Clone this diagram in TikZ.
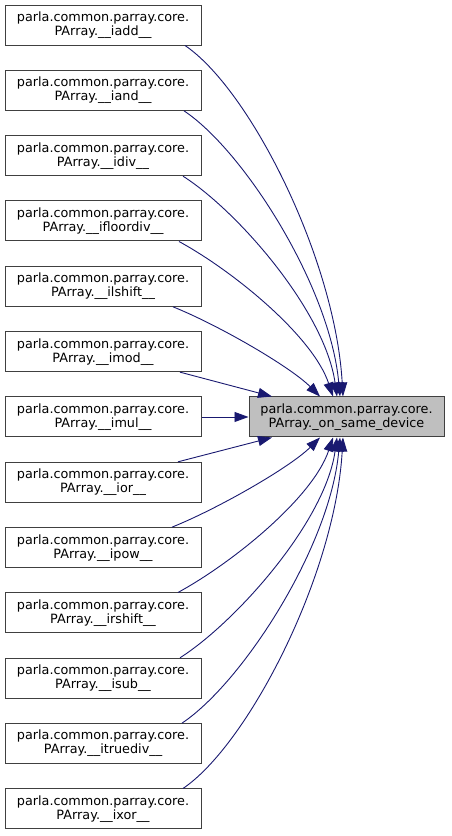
\documentclass[tikz,border=0pt]{standalone}
\usepackage{fontspec}
\setmainfont{DejaVu Sans}
\usepackage{xcolor}
\usetikzlibrary{arrows.meta,positioning}
\definecolor{callBlue}{HTML}{191970}
\definecolor{nodeGrey}{HTML}{BFBFBF}
\definecolor{lineGrey}{HTML}{404040}
\tikzset{
  fnbox/.style={draw=lineGrey, line width=1pt, align=center, inner sep=0pt, font=\fontsize{12.8}{14}\selectfont, minimum width=196pt, minimum height=40pt, fill=#1},
  fnbox/.default=white,
  arrcall/.style={draw=callBlue, line width=0.9pt, -{Triangle[length=14pt,width=10pt]}},
}

\begin{document}
\begin{tikzpicture}[x=1pt, y=-1pt, node distance=24.33pt]
\useasboundingbox (0,0) rectangle (451,836);
\node[fnbox] (iadd) at (103,25) {parla.common.parray.core.\\PArray.\_\_iadd\_\_};
\node[fnbox, below=of iadd] (iand) {parla.common.parray.core.\\PArray.\_\_iand\_\_};
\node[fnbox, below=of iand] (idiv) {parla.common.parray.core.\\PArray.\_\_idiv\_\_};
\node[fnbox, below=of idiv] (ifloordiv) {parla.common.parray.core.\\PArray.\_\_ifloordiv\_\_};
\node[fnbox, below=of ifloordiv] (ilshift) {parla.common.parray.core.\\PArray.\_\_ilshift\_\_};
\node[fnbox, below=of ilshift] (imod) {parla.common.parray.core.\\PArray.\_\_imod\_\_};
\node[fnbox, below=of imod] (imul) {parla.common.parray.core.\\PArray.\_\_imul\_\_};
\node[fnbox, below=of imul] (ior) {parla.common.parray.core.\\PArray.\_\_ior\_\_};
\node[fnbox, below=of ior] (ipow) {parla.common.parray.core.\\PArray.\_\_ipow\_\_};
\node[fnbox, below=of ipow] (irshift) {parla.common.parray.core.\\PArray.\_\_irshift\_\_};
\node[fnbox, below=of irshift] (isub) {parla.common.parray.core.\\PArray.\_\_isub\_\_};
\node[fnbox, below=of isub] (itruediv) {parla.common.parray.core.\\PArray.\_\_itruediv\_\_};
\node[fnbox, below=of itruediv] (ixor) {parla.common.parray.core.\\PArray.\_\_ixor\_\_};
\node[fnbox=nodeGrey, minimum width=195pt, right=47pt of imul] (samedev) {parla.common.parray.core.\\PArray.\_on\_same\_device};
% callers above the target
\draw[arrcall] ([xshift=82pt]iadd.south) .. controls +(65,44) and +(-8,-138) .. ([xshift=-3.5pt]samedev.north);
\draw[arrcall] ([xshift=81pt]iand.south) .. controls +(60,40) and +(-10,-110) .. ([xshift=-6.5pt]samedev.north);
\draw[arrcall] ([xshift=80pt]idiv.south) .. controls +(55,35) and +(-12,-85) .. ([xshift=-9.5pt]samedev.north);
\draw[arrcall] ([xshift=76pt]ifloordiv.south) .. controls +(55,30) and +(-20,-60) .. ([xshift=-13.5pt]samedev.north);
\draw[arrcall] ([xshift=70pt]ilshift.south) .. controls +(45,18) and +(-30,-30) .. ([xshift=-26.5pt]samedev.north);
\draw[arrcall] ([xshift=77pt]imod.south) -- ([xshift=-74.5pt]samedev.north);
\draw[arrcall] (imul) -- (samedev);
% callers below the target
\draw[arrcall] ([xshift=75pt]ior.north) -- ([xshift=-74.5pt]samedev.south);
\draw[arrcall] ([xshift=69pt]ipow.north) .. controls +(45,-18) and +(-30,30) .. ([xshift=-26.5pt]samedev.south);
\draw[arrcall] ([xshift=75pt]irshift.north) .. controls +(55,-30) and +(-20,60) .. ([xshift=-13.5pt]samedev.south);
\draw[arrcall] ([xshift=77pt]isub.north) .. controls +(55,-35) and +(-12,85) .. ([xshift=-9.5pt]samedev.south);
\draw[arrcall] ([xshift=79pt]itruediv.north) .. controls +(60,-40) and +(-10,110) .. ([xshift=-6.5pt]samedev.south);
\draw[arrcall] ([xshift=80pt]ixor.north) .. controls +(65,-44) and +(-8,138) .. ([xshift=-3.5pt]samedev.south);
\end{tikzpicture}
\end{document}
